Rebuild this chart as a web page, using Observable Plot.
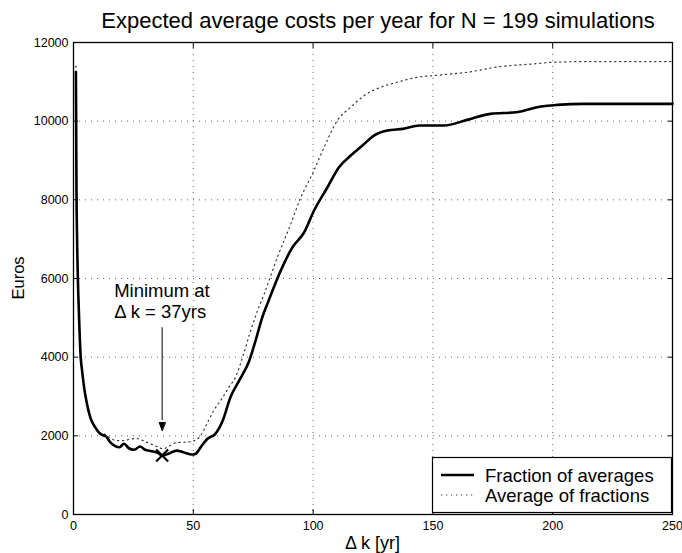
<!DOCTYPE html>
<html><head><meta charset="utf-8">
<script src="https://cdn.jsdelivr.net/npm/d3@7"></script>
<script src="https://cdn.jsdelivr.net/npm/@observablehq/plot@0.6"></script>
<style>body{margin:0;background:#fff;} svg{display:block;}</style>
</head><body><div id="chart"></div>
<script>
const titleText = "Expected average costs per year for N = 199 simulations";
const xLabel = "Δ k [yr]";
const yLabel = "Euros";
const seriesNames = ["Fraction of averages", "Average of fractions"];
const xTicks = [0, 50, 100, 150, 200, 250];
const yTicks = [0, 2000, 4000, 6000, 8000, 10000, 12000];

// Fraction of averages (solid)
const solidK = [1,1.25,1.5,2,2.5,3,3.5,4.5,5.5,7,9,11,12.5,13.5,15.3,17.4,19.2,21.1,22.9,25.3,27.8,29.9,32.6,35.4,37,39.6,43,45.8,49.5,51,53.2,55.8,59.2,62.3,65.5,69.2,73.4,76,78.8,81.2,86.5,91.4,96.3,100.4,106,110.8,115.7,120.6,125.4,131,137.5,144.5,154.6,164.3,174,185,195,202,213,250];
const solidV = [11250,8200,7000,5600,4700,4000,3700,3200,2850,2470,2220,2060,2010,1990,1840,1740,1710,1800,1695,1645,1730,1645,1610,1560,1500,1545,1625,1585,1525,1545,1720,1920,2050,2390,2980,3410,3915,4420,5015,5400,6200,6795,7176,7728,8320,8829,9126,9380,9634,9761,9804,9889,9889,10033,10185,10227,10371,10414,10440,10440];

// Average of fractions (dotted)
const dotK = [1,1.25,1.5,2,2.5,3,3.5,4.5,5.5,7,9,11,12.5,15,18,21,24,26.5,29,32,35,37.5,40,43,47,50,53,55.5,58.5,62,65,67.6,71,73.3,76,79.6,85.1,90.7,94.9,99.7,104.6,110.1,115.7,121.3,128.2,135.1,143.5,150.4,164.3,178.2,192.1,200.4,215,250];
const dotV = [11400,8300,7050,5650,4750,4050,3730,3230,2870,2490,2240,2080,2060,1950,1880,1880,1920,1930,1880,1800,1720,1670,1740,1830,1840,1870,2000,2280,2640,2950,3250,3490,4085,4550,5050,5610,6541,7389,8066,8660,9337,10015,10354,10651,10863,10990,11117,11160,11244,11388,11456,11498,11515,11515];

const solid = solidK.map((k, i) => ({k, v: solidV[i]}));
const dotted = dotK.map((k, i) => ({k, v: dotV[i]}));
const minPt = solid.reduce((a, b) => (b.v < a.v ? b : a));

const FONT = "Liberation Sans, Arial, Helvetica, sans-serif";
const headShape = {draw(ctx, l) { ctx.moveTo(0, -l); ctx.lineTo(3, 0); ctx.lineTo(-3, 0); ctx.closePath(); }};
const gridStyle = {stroke: "#666", strokeOpacity: 1, strokeWidth: 1, strokeDasharray: "1,5"};

const plot = Plot.plot({
  width: 682, height: 553,
  marginLeft: 73, marginRight: 10, marginTop: 42, marginBottom: 39,
  style: {fontFamily: FONT, fontSize: "12.5px", background: "white", color: "black"},
  x: {domain: [0, 250], ticks: xTicks, label: null},
  y: {domain: [0, 12000], ticks: yTicks, label: null},
  marks: [
    Plot.gridX(xTicks.slice(1, -1), gridStyle),
    Plot.gridY(yTicks.slice(1, -1), gridStyle),
    Plot.line(dotted, {x: "k", y: "v", stroke: "#333", strokeWidth: 1.2, strokeDasharray: "1.2,3.8", curve: "monotone-x"}),
    Plot.line(solid, {x: "k", y: "v", stroke: "black", strokeWidth: 2.6, curve: "monotone-x"}),
    Plot.dot([minPt], {x: "k", y: "v", symbol: "times", r: 5.5, stroke: "black", strokeWidth: 2.2}),
    Plot.link([minPt], {x1: "k", x2: "k", y1: d => d.v + 3260, y2: d => d.v + 900, stroke: "black", strokeWidth: 1}),
    Plot.vector([minPt], {x: "k", y: d => d.v + 635, length: 8, rotate: 180, anchor: "end", shape: headShape, fill: "black", stroke: "black", strokeWidth: 1}),
    Plot.text([minPt], {x: "k", y: d => d.v + 3260, text: () => "Minimum at", textAnchor: "start", lineAnchor: "bottom", dx: -48, dy: -30, fontSize: 18.5}),
    Plot.text([minPt], {x: "k", y: d => d.v + 3260, text: d => `Δ k = ${d.k}yrs`, textAnchor: "start", lineAnchor: "bottom", dx: -48, dy: -9, fontSize: 18.5}),
    Plot.axisX(xTicks, {anchor: "bottom", tickSize: -5, tickPadding: 12, tickFormat: d3.format("d"), label: null}),
    Plot.axisX(xTicks, {anchor: "top", tickSize: -5, tickFormat: () => "", label: null}),
    Plot.axisY(yTicks, {anchor: "left", tickSize: -5, tickPadding: 10, tickFormat: d3.format("d"), label: null}),
    Plot.axisY(yTicks, {anchor: "right", tickSize: -5, tickFormat: () => "", label: null}),
    Plot.frame({stroke: "black", strokeWidth: 1.3})
  ]
});

const svg = d3.select(plot);
svg.append("text").attr("x", 378).attr("y", 28).attr("text-anchor", "middle")
  .attr("font-family", FONT).attr("font-size", 22).attr("fill", "black").text(titleText);
svg.append("text").attr("x", 372.5).attr("y", 549).attr("text-anchor", "middle")
  .attr("font-family", FONT).attr("font-size", 18).attr("fill", "black").text(xLabel);
svg.append("text").attr("transform", "translate(24,278) rotate(-90)").attr("text-anchor", "middle")
  .attr("font-family", FONT).attr("font-size", 16.5).attr("fill", "black").text(yLabel);

const lg = svg.append("g");
lg.append("rect").attr("x", 432.5).attr("y", 457.5).attr("width", 239).attr("height", 55)
  .attr("fill", "white").attr("stroke", "black").attr("stroke-width", 1.2);
const styles = [{w: 2.6, dash: null, c: "black"}, {w: 1.2, dash: "1.2,3.8", c: "#333"}];
seriesNames.forEach((name, i) => {
  const y = 475 + i * 20;
  lg.append("line").attr("x1", 441).attr("x2", 474).attr("y1", y).attr("y2", y)
    .attr("stroke", styles[i].c).attr("stroke-width", styles[i].w).attr("stroke-dasharray", styles[i].dash);
  lg.append("text").attr("x", 485).attr("y", y + 6.5).attr("text-anchor", "start")
    .attr("font-family", FONT).attr("font-size", 18.5).attr("fill", "black").text(name);
});

document.getElementById("chart").appendChild(plot);
</script></body></html>
